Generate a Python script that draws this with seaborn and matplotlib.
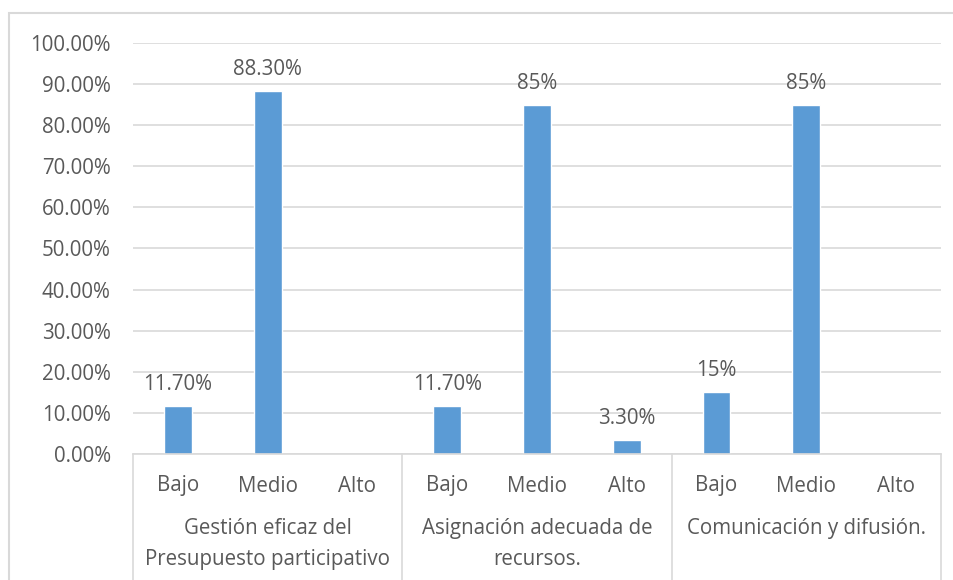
import pandas as pd
import numpy as np
import matplotlib
matplotlib.use("Agg")
import matplotlib.pyplot as plt
import matplotlib.transforms as mtransforms
from matplotlib.lines import Line2D
from matplotlib.patches import Rectangle
import seaborn as sns

# datos
grupos = ["Gestión eficaz del\nPresupuesto participativo",
          "Asignación adecuada de\nrecursos.",
          "Comunicación y difusión."]
niveles = ["Bajo", "Medio", "Alto"]
valores = [[11.7, 88.3, None],
           [11.7, 85.0, 3.3],
           [15.0, 85.0, None]]
etiquetas = [["11.70%", "88.30%", None],
             ["11.70%", "85%", "3.30%"],
             ["15%", "85%", None]]
yticks = [0, 10, 20, 30, 40, 50, 60, 70, 80, 90, 100]

filas = []
orden = []
for g, vals, labs in zip(grupos, valores, etiquetas):
    for n, v, l in zip(niveles, vals, labs):
        key = g + "|" + n
        orden.append(key)
        if v is not None:
            filas.append({"slot": key, "grupo": g, "nivel": n, "valor": v, "label": l})
df = pd.DataFrame(filas)

sns.set_style("white")
plt.rcParams['font.family'] = ['Open Sans', 'DejaVu Sans']

GRIS = "#595959"
LINEA = "#D9D9D9"
FS = 14.8

fig = plt.figure(figsize=(9.54, 5.80), dpi=100)
ax = fig.add_axes([133 / 954, 1 - 454 / 580, (941 - 133) / 954, (454 - 43) / 580])

sns.barplot(data=df, x="slot", y="valor", order=orden, color="#5B9BD5",
            width=0.31, saturation=1, ax=ax)

ax.set_ylim(0, 100)
ax.set_xlim(-0.5, len(orden) - 0.5)
ax.set_yticks(yticks)
ax.set_yticklabels([f"{t:.2f}%" for t in yticks], fontsize=FS, color=GRIS)
ax.tick_params(axis="y", length=0, pad=16)
ax.set_xticks([])
ax.set_xlabel("")
ax.set_ylabel("")
ax.grid(axis="y", color=LINEA, linewidth=1.2)
ax.set_axisbelow(True)
for s in ["left", "right", "top"]:
    ax.spines[s].set_visible(False)
ax.spines["bottom"].set_color(LINEA)
ax.spines["bottom"].set_linewidth(1.2)

# etiquetas de datos
for _, r in df.iterrows():
    i = orden.index(r["slot"])
    ax.annotate(r["label"], (i, r["valor"]), xytext=(0, 8), textcoords="offset points",
                ha="center", va="bottom", fontsize=FS, color=GRIS)

# eje de categorías de dos niveles
trans = mtransforms.blended_transform_factory(ax.transData, fig.transFigure)
for i, key in enumerate(orden):
    nivel = key.split("|")[1]
    ax.text(i, 1 - 486 / 580, nivel, transform=trans, ha="center", va="center",
            fontsize=FS, color=GRIS)
for k, g in enumerate(grupos):
    ax.text(3 * k + 1, 1 - 518 / 580, g, transform=trans, ha="center", va="top",
            fontsize=FS, color=GRIS, linespacing=1.62)
for xs in [-0.5, 2.5, 5.5, 8.5]:
    ax.add_line(Line2D([xs, xs], [1 - 454 / 580, 0], transform=trans, color=LINEA,
                       linewidth=1.2, clip_on=False))

# marco exterior
fig.add_artist(Rectangle((9.5 / 954, -0.1), 1.0, 1 - 13.5 / 580 + 0.1, transform=fig.transFigure,
                         fill=False, edgecolor=LINEA, linewidth=1.5, clip_on=False))

fig.savefig("out.png", dpi=100)
